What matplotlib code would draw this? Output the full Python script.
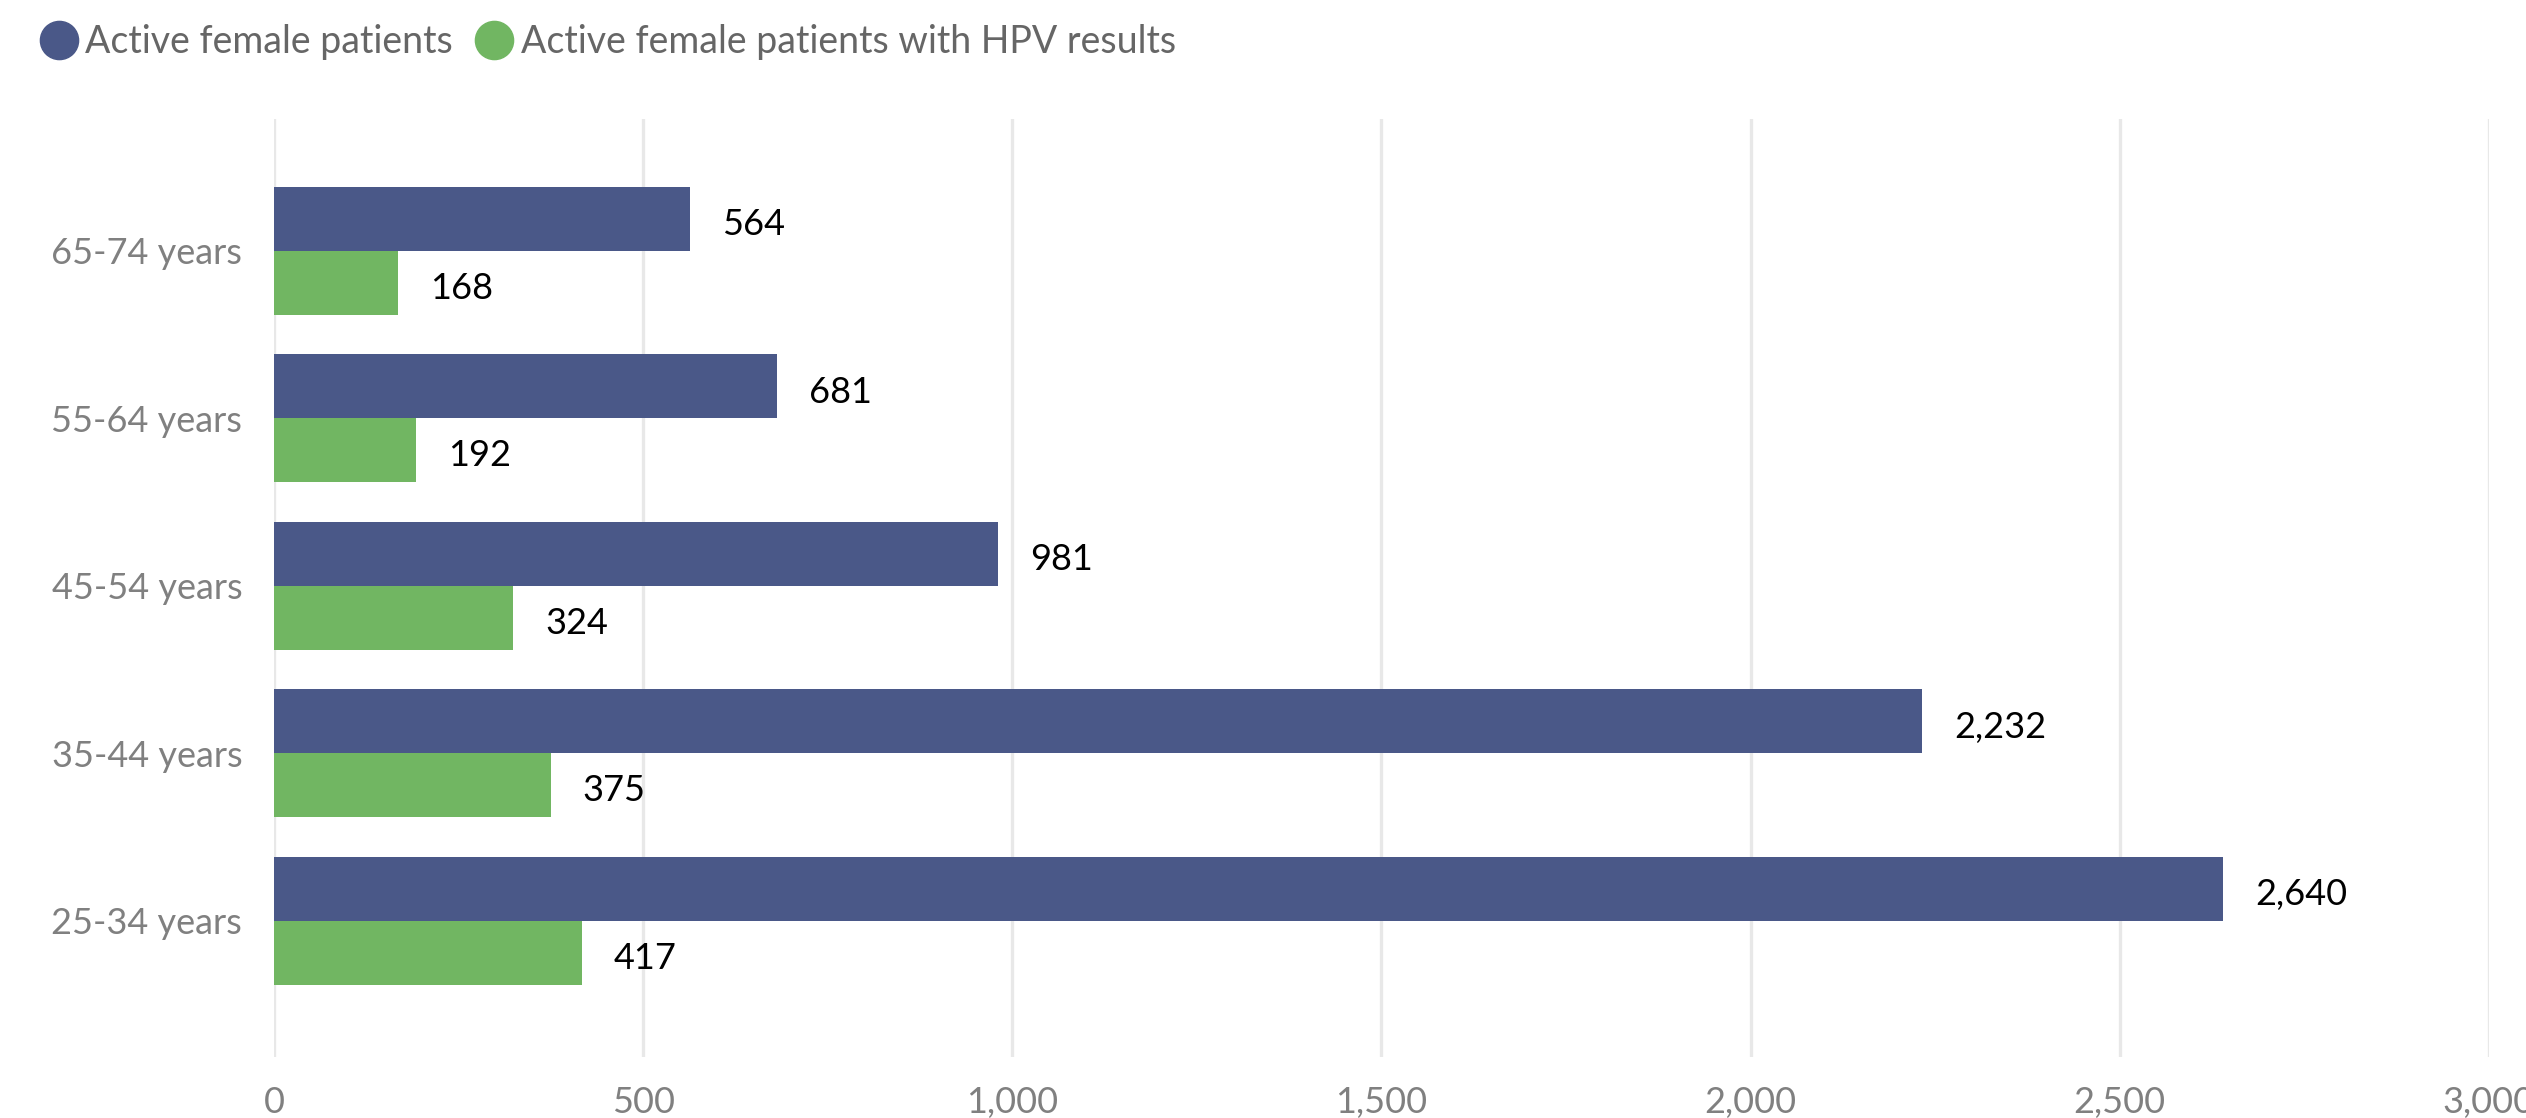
import matplotlib.pyplot as plt
from matplotlib.lines import Line2D

plt.rcParams['font.family'] = ['Lato', 'DejaVu Sans']

# dados do grafico
faixas = ['25-34 years', '35-44 years', '45-54 years', '55-64 years', '65-74 years']
ativas = [2640, 2232, 981, 681, 564]
ativas_hpv = [417, 375, 324, 192, 168]
nomes_series = ['Active female patients', 'Active female patients with HPV results']
ticks_x = [0, 500, 1000, 1500, 2000, 2500, 3000]

cor_azul = '#4A5888'
cor_verde = '#71B662'

fig = plt.figure(figsize=(25.26, 11.18), dpi=100)
ax = fig.add_axes([0.1085, 0.0546, 0.8768, 0.839])

pos = list(range(len(faixas)))
h = 0.382
ax.barh([p + h / 2 for p in pos], ativas, height=h, color=cor_azul, zorder=3)
ax.barh([p - h / 2 for p in pos], ativas_hpv, height=h, color=cor_verde, zorder=3)

# rotulos dos valores
for p, v in zip(pos, ativas):
    ax.annotate(f'{v:,}', (v, p + h / 2), xytext=(23, -4), textcoords='offset points',
                va='center', ha='left', fontsize=26, color='black')
for p, v in zip(pos, ativas_hpv):
    ax.annotate(f'{v:,}', (v, p - h / 2), xytext=(23, -4), textcoords='offset points',
                va='center', ha='left', fontsize=26, color='black')

ax.set_xlim(0, 3000)
ax.set_ylim(-0.812, 4.788)
ax.set_xticks(ticks_x)
ax.set_xticklabels([f'{t:,}' for t in ticks_x])
ax.set_yticks(pos)
ax.set_yticklabels(faixas)
ax.tick_params(axis='x', length=0, pad=21, labelsize=26, labelcolor='#808080')
ax.tick_params(axis='y', length=0, pad=23, labelsize=26, labelcolor='#808080')
ax.grid(axis='x', color='#E8E8E8', linewidth=2.4, zorder=0)
ax.grid(axis='y', visible=False)
for s in ax.spines.values():
    s.set_visible(False)

# legenda
handles = [Line2D([], [], marker='o', linestyle='', markersize=27.5, color=cor_azul),
           Line2D([], [], marker='o', linestyle='', markersize=27.5, color=cor_verde)]
fig.legend(handles, nomes_series, loc='upper left', bbox_to_anchor=(40 / 2526, 1 - 24 / 1118),
           ncol=2, frameon=False, fontsize=27, labelcolor='#666666',
           handlelength=1.0, handletextpad=0.21, columnspacing=0.6,
           borderaxespad=0, borderpad=0)

fig.savefig('out.png', dpi=100)
